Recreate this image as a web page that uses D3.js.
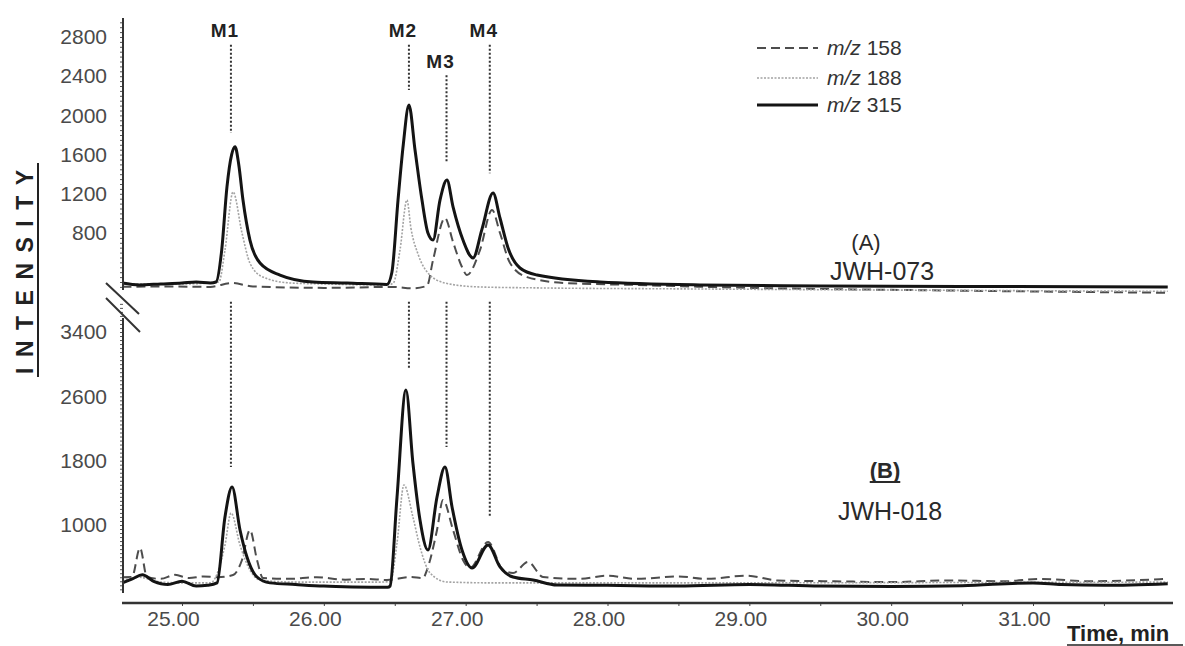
<!DOCTYPE html>
<html>
<head>
<meta charset="utf-8">
<script src="https://cdn.jsdelivr.net/npm/d3@7"></script>
<style>
  body { margin: 0; background: #fff; }
  svg { display: block; font-family: Arial, "Liberation Sans", sans-serif; }
</style>
</head>
<body>
<div id="chart"></div>
<script>
// ---- data ----
const timeTicks = [25, 26, 27, 28, 29, 30, 31];
const topTicks = [800, 1200, 1600, 2000, 2400, 2800];
const bottomTicks = [1000, 1800, 2600, 3400];

const seriesNames = ['158', '188', '315'];

const markerNames = ['M1', 'M2', 'M3', 'M4'];
const markerTimes = [25.345, 26.60, 26.865, 27.17];
const markerLabelValue = [2810, 2810, 2490, 2810];   // top panel scale
const markerTopFrom = [2720, 2720, 2410, 2720];
const markerTopTo = [1820, 2260, 1515, 1410];
const markerBottomFrom = [3775, 3775, 3775, 3775];  // bottom panel scale
const markerBottomTo = [1720, 2930, 1970, 1100];

// panel A (JWH-073), [time, intensity]
const topMz158 = [
  [24.58, 250], [24.9, 255], [25.2, 250], [25.35, 290], [25.5, 255], [26.0, 240],
  [26.5, 250], [26.62, 235], [26.727, 260], [26.77, 524], [26.854, 953], [26.911, 708],
  [26.974, 453], [27.009, 371], [27.101, 626], [27.186, 1035], [27.242, 800], [27.313, 493],
  [27.433, 350], [27.7, 290], [28.2, 270], [29.0, 240], [30.0, 220], [31.95, 190]
];
const topMz188 = [
  [24.58, 280], [25.0, 280], [25.26, 300], [25.303, 626], [25.36, 1218], [25.423, 800],
  [25.479, 493], [25.571, 350], [25.762, 290], [26.0, 280], [26.45, 270], [26.49, 290],
  [26.537, 626], [26.586, 1136], [26.614, 850], [26.664, 585], [26.734, 392], [26.854, 290],
  [27.087, 250], [27.5, 240], [28.5, 230], [31.95, 205]
];
const topMz315 = [
  [24.58, 290], [24.7, 270], [24.85, 280], [25.0, 290], [25.1, 300], [25.2, 290],
  [25.24, 300], [25.28, 626], [25.317, 1270], [25.35, 1600], [25.374, 1680], [25.40, 1500],
  [25.430, 1136], [25.479, 728], [25.550, 493], [25.691, 371], [25.924, 300], [26.163, 290],
  [26.445, 275], [26.48, 400], [26.523, 1136], [26.56, 1700], [26.60, 2106], [26.643, 1647],
  [26.692, 1136], [26.734, 800], [26.770, 728], [26.819, 1136], [26.868, 1340], [26.911, 1066],
  [26.981, 728], [27.052, 545], [27.115, 840], [27.193, 1208], [27.242, 953], [27.299, 647],
  [27.383, 443], [27.503, 371], [27.947, 300], [28.652, 270], [29.5, 260], [30.5, 255],
  [31.95, 250]
];

// panel B (JWH-018)
const bottomMz158 = [
  [24.58, 350], [24.647, 353], [24.704, 714], [24.753, 353], [24.85, 330], [24.95, 380],
  [25.05, 340], [25.15, 360], [25.25, 350], [25.36, 378], [25.423, 565], [25.479, 938],
  [25.529, 565], [25.571, 341], [25.75, 330], [25.95, 350], [26.15, 320], [26.3, 330],
  [26.445, 316], [26.61, 353], [26.70, 340], [26.727, 440], [26.798, 938], [26.840, 1311],
  [26.911, 938], [26.981, 565], [27.031, 465], [27.158, 789], [27.263, 440], [27.334, 403],
  [27.440, 540], [27.545, 353], [27.8, 330], [28.0, 370], [28.2, 330], [28.5, 360],
  [28.7, 330], [28.98, 370], [29.2, 310], [29.6, 300], [30.0, 290], [30.4, 310],
  [30.8, 300], [31.05, 330], [31.4, 300], [31.95, 330]
];
const bottomMz188 = [
  [24.58, 310], [24.70, 350], [24.85, 290], [25.0, 280], [25.2, 280], [25.303, 750],
  [25.346, 1149], [25.409, 750], [25.479, 440], [25.55, 316], [25.8, 290], [26.4, 290],
  [26.47, 300], [26.516, 776], [26.565, 1498], [26.628, 1100], [26.678, 726], [26.749, 403],
  [26.868, 291], [27.2, 280], [28.0, 280], [31.95, 290]
];
const bottomMz315 = [
  [24.58, 279], [24.65, 330], [24.72, 380], [24.80, 300], [24.90, 260], [25.0, 300],
  [25.1, 240], [25.18, 250], [25.247, 280], [25.303, 1100], [25.353, 1473], [25.409, 938],
  [25.458, 602], [25.529, 353], [25.620, 280], [25.8, 260], [26.0, 240], [26.2, 230],
  [26.45, 225], [26.467, 240], [26.516, 1348], [26.579, 2679], [26.628, 1771], [26.678, 1062],
  [26.734, 689], [26.798, 1348], [26.854, 1721], [26.904, 1224], [26.974, 689], [27.045, 465],
  [27.158, 751], [27.242, 478], [27.334, 353], [27.475, 316], [27.644, 254], [28.0, 250],
  [28.5, 240], [29.0, 260], [29.5, 240], [30.0, 235], [30.5, 245], [31.0, 280],
  [31.2, 260], [31.5, 250], [31.95, 270]
];

// ---- drawing ----
const width = 1185, height = 646;
const axisX = 123, axisRight = 1173;
const tickFont = 'Arial, "Liberation Sans", sans-serif';

const svg = d3.select('#chart').append('svg')
  .attr('width', width)
  .attr('height', height)
  .style('background', '#fff');

const x = d3.scaleLinear().domain([25, 31]).range([182, 1033]);
const yTop = d3.scaleLinear().domain([0, 2800]).range([311.4, 37]);
const yBot = d3.scaleLinear().domain([0, 3400]).range([605.4, 332]);

const styles = {
  '158': { stroke: '#4d4d4d', width: 2, dash: '9,5' },
  '188': { stroke: '#a3a3a3', width: 1.6, dash: '2,1.5' },
  '315': { stroke: '#141414', width: 3, dash: null }
};

function drawTraces(g, yScale, traces) {
  const line = d3.line()
    .x(d => x(d[0]))
    .y(d => yScale(d[1]))
    .curve(d3.curveMonotoneX);
  traces.forEach((data, i) => {
    const s = styles[seriesNames[i]];
    g.append('path')
      .datum(data)
      .attr('d', line)
      .attr('fill', 'none')
      .attr('stroke', s.stroke)
      .attr('stroke-width', s.width)
      .attr('stroke-dasharray', s.dash)
      .attr('stroke-linejoin', 'round');
  });
}

// Marker dotted guides
const markers = svg.append('g');
markerNames.forEach((name, i) => {
  const mx = x(markerTimes[i]);
  markers.append('line')
    .attr('x1', mx).attr('x2', mx)
    .attr('y1', yTop(markerTopFrom[i])).attr('y2', yTop(markerTopTo[i]))
    .attr('stroke', '#333').attr('stroke-width', 2).attr('stroke-dasharray', '2,2');
  markers.append('line')
    .attr('x1', mx).attr('x2', mx)
    .attr('y1', yBot(markerBottomFrom[i])).attr('y2', yBot(markerBottomTo[i]))
    .attr('stroke', '#333').attr('stroke-width', 2).attr('stroke-dasharray', '2,2');
  markers.append('text')
    .attr('x', mx - 6)
    .attr('y', yTop(markerLabelValue[i]) + 1)
    .attr('text-anchor', 'middle')
    .attr('font-size', 19)
    .attr('font-weight', 'bold')
    .attr('letter-spacing', 1)
    .attr('fill', '#222')
    .text(name);
});

// Traces
drawTraces(svg.append('g'), yTop, [topMz158, topMz188, topMz315]);
drawTraces(svg.append('g'), yBot, [bottomMz158, bottomMz188, bottomMz315]);

// Y axes
function yAxis(yScale, ticks, minorFrom, minorTo, top, bottom) {
  const g = svg.append('g').attr('transform', `translate(${axisX},0)`);
  g.call(d3.axisLeft(yScale).tickValues(d3.range(minorFrom, minorTo, 50)).tickSize(3).tickFormat(''))
    .call(a => a.select('.domain').remove())
    .call(a => a.selectAll('line').attr('stroke', '#555'));
  g.append('g')
    .call(d3.axisLeft(yScale).tickValues(ticks).tickSize(0).tickPadding(16).tickFormat(d3.format('d')))
    .call(a => a.select('.domain').remove())
    .call(a => a.selectAll('text')
      .attr('font-size', 21)
      .attr('font-family', tickFont)
      .attr('fill', '#4a4a4a'));
  g.append('line')
    .attr('x1', 0).attr('x2', 0)
    .attr('y1', top).attr('y2', bottom)
    .attr('stroke', '#333').attr('stroke-width', 2);
}
yAxis(yTop, topTicks, 250, 3000, 18, 290);
yAxis(yBot, bottomTicks, 200, 3800, 318, 593);

// X axis
const xg = svg.append('g').attr('transform', 'translate(0,603)');
xg.call(d3.axisBottom(x).tickValues(d3.range(24.5, 32, 0.5).filter(t => x(t) > axisX && x(t) < axisRight))
    .tickSize(3).tickFormat(''))
  .call(a => a.select('.domain').remove())
  .call(a => a.selectAll('line').attr('stroke', '#444'));
xg.append('g')
  .call(d3.axisBottom(x).tickValues(timeTicks).tickSize(0).tickPadding(8).tickFormat(d3.format('.2f')))
  .call(a => a.select('.domain').remove())
  .call(a => a.selectAll('text')
    .attr('dx', -9)
    .attr('font-size', 21)
    .attr('font-family', tickFont)
    .attr('fill', '#4a4a4a'));
xg.append('line')
  .attr('x1', axisX - 1).attr('x2', axisRight)
  .attr('stroke', '#333').attr('stroke-width', 2.5);

// axis break marks
svg.append('g')
  .selectAll('line')
  .data([[106, 283, 139, 314], [106, 298, 140, 332]])
  .enter().append('line')
  .attr('x1', d => d[0]).attr('y1', d => d[1])
  .attr('x2', d => d[2]).attr('y2', d => d[3])
  .attr('stroke', '#333').attr('stroke-width', 2);

// Axis titles
svg.append('text')
  .attr('transform', 'translate(33,374) rotate(-90)')
  .attr('text-anchor', 'start')
  .attr('font-size', 23)
  .attr('font-weight', 'bold')
  .attr('letter-spacing', 10.5)
  .attr('fill', '#222')
  .text('INTENSITY');
svg.append('line')
  .attr('x1', 38).attr('x2', 38).attr('y1', 163).attr('y2', 377)
  .attr('stroke', '#222').attr('stroke-width', 2);

svg.append('text')
  .attr('x', 1067).attr('y', 641)
  .attr('font-size', 22)
  .attr('font-weight', 'bold')
  .attr('fill', '#222')
  .text('Time, min');
svg.append('line')
  .attr('x1', 1067).attr('x2', 1183).attr('y1', 645).attr('y2', 645)
  .attr('stroke', '#222').attr('stroke-width', 1.5);

// Legend
const legend = svg.append('g');
const legendRows = [48, 78, 105];
seriesNames.forEach((name, i) => {
  const s = styles[name];
  legend.append('line')
    .attr('x1', 757).attr('x2', 818)
    .attr('y1', legendRows[i]).attr('y2', legendRows[i])
    .attr('stroke', s.stroke)
    .attr('stroke-width', s.width)
    .attr('stroke-dasharray', s.dash);
  const t = legend.append('text')
    .attr('x', 827).attr('y', legendRows[i] + 7)
    .attr('font-size', 21)
    .attr('fill', '#333');
  t.append('tspan').attr('font-style', 'italic').text('m/z');
  t.append('tspan').text(' ' + name);
});

// Panel labels
const panelText = [
  { t: '(A)', x: 866, y: 250, size: 22, bold: false, underline: false },
  { t: 'JWH-073', x: 882, y: 280, size: 25, bold: false, underline: false },
  { t: '(B)', x: 885, y: 478, size: 22, bold: true, underline: true },
  { t: 'JWH-018', x: 890, y: 520, size: 25, bold: false, underline: false }
];
panelText.forEach(p => {
  const el = svg.append('text')
    .attr('x', p.x).attr('y', p.y)
    .attr('text-anchor', 'middle')
    .attr('font-size', p.size)
    .attr('font-weight', p.bold ? 'bold' : 'normal')
    .attr('fill', '#2a2a2a')
    .text(p.t);
  if (p.underline) {
    const bb = el.node().getBBox();
    svg.append('line')
      .attr('x1', bb.x).attr('x2', bb.x + bb.width)
      .attr('y1', p.y + 4).attr('y2', p.y + 4)
      .attr('stroke', '#2a2a2a').attr('stroke-width', 2);
  }
});
</script>
</body>
</html>
